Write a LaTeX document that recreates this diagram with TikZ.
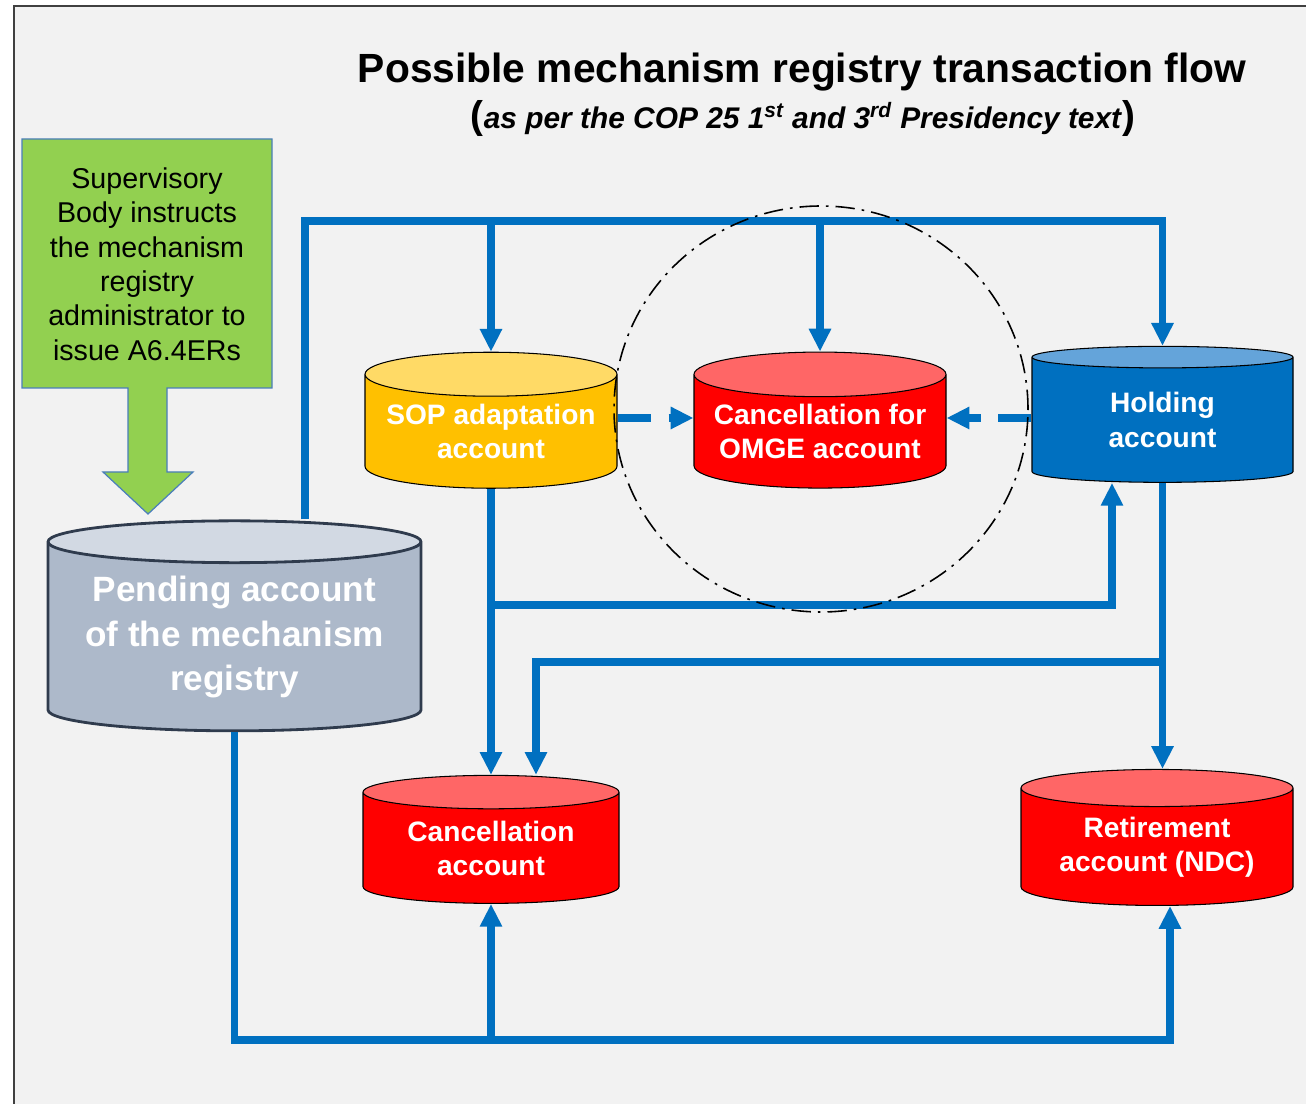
\documentclass[tikz,border=0pt]{standalone}
\usepackage{fontspec}
\setmainfont{Liberation Sans}
\usepackage{tikz}
\usetikzlibrary{arrows.meta,shapes.geometric,calc}
\definecolor{regblue}{HTML}{0070C0}
\definecolor{regbluetop}{HTML}{64A4DA}
\definecolor{regpaper}{HTML}{F2F2F2}
\definecolor{regframe}{HTML}{404040}
\definecolor{reggreen}{HTML}{92D050}
\definecolor{reggreenline}{HTML}{4A7EBB}
\definecolor{reggold}{HTML}{FFC000}
\definecolor{reggoldtop}{HTML}{FFDA66}
\definecolor{regred}{HTML}{FF0000}
\definecolor{regredtop}{HTML}{FF6666}
\definecolor{reggrey}{HTML}{ADB9CA}
\definecolor{reggreytop}{HTML}{D2D9E3}
\definecolor{regslate}{HTML}{2F3B4D}

\tikzset{
  account/.style={cylinder, shape border rotate=90, aspect=0.21, draw=black,
    line width=0.6pt, cylinder uses custom fill, text=white, align=center,
    inner sep=0pt, font=\fontsize{16}{19.4}\selectfont\bfseries},
  flow/.style={draw=regblue, line width=4pt, -{Triangle[length=13pt,width=12pt]}},
  flowdash/.style={flow, dash pattern=on 19pt off 10pt}
}

\begin{document}
\begin{tikzpicture}
  \useasboundingbox (0,0) rectangle (26.12,22.08);
  \fill[regpaper] (0.28,0) rectangle (26.12,21.96);
  \draw[regframe, line width=1.1pt] (0.28,0) |- (26.12,21.96);

  % heading
  \node[font=\fontsize{23.2}{28}\selectfont\bfseries] (title) at (16.04,20.64)
    {Possible mechanism registry transaction flow};
  \node[font=\fontsize{17}{20}\selectfont\bfseries] (subtitle) at (16.06,19.70)
    {{\fontsize{22}{24}\selectfont(}\textit{as per the COP 25 1\textsuperscript{st} and 3\textsuperscript{rd} Presidency text}{\fontsize{22}{24}\selectfont)}};

  % supervisory body callout
  \filldraw[fill=reggreen, draw=reggreenline, line width=0.7pt]
    (0.44,19.30) -- (5.44,19.30) -- (5.44,14.32) -- (3.34,14.32) -- (3.34,12.64)
    -- (3.86,12.64) -- (2.96,11.80) -- (2.06,12.64) -- (2.56,12.64) -- (2.56,14.32)
    -- (0.44,14.32) -- cycle;
  \node[align=center, font=\fontsize{16.3}{19.6}\selectfont] (sb) at (2.94,16.80)
    {Supervisory\\Body instructs\\the mechanism\\registry\\administrator to\\issue A6.4ERs};

  % accounts
  \node[account, aspect=0.14, draw=regslate, line width=1.6pt, minimum width=7.46cm,
    minimum height=4.2cm, cylinder body fill=reggrey, cylinder end fill=reggreytop,
    font=\fontsize{20}{25.3}\selectfont\bfseries] (pend) at (4.69,9.34)
    {Pending account\\of the mechanism\\registry};
  \node[account, minimum width=5.04cm, minimum height=2.72cm,
    cylinder body fill=reggold, cylinder end fill=reggoldtop] (sop) at (9.82,13.45)
    {SOP adaptation\\account};
  \node[account, minimum width=5.04cm, minimum height=2.72cm,
    cylinder body fill=regred, cylinder end fill=regredtop] (omge) at (16.40,13.45)
    {Cancellation for\\OMGE account};
  \node[account, aspect=0.20, minimum width=5.22cm, minimum height=2.72cm,
    cylinder body fill=regblue, cylinder end fill=regbluetop] (hold) at (23.25,13.68)
    {Holding\\account};
  \node[account, aspect=0.20, minimum width=5.12cm, minimum height=2.56cm,
    cylinder body fill=regred, cylinder end fill=regredtop] (canc) at (9.82,5.12)
    {Cancellation\\account};
  \node[account, aspect=0.19, minimum width=5.44cm, minimum height=2.72cm,
    cylinder body fill=regred, cylinder end fill=regredtop] (reti) at (23.14,5.14)
    {Retirement\\account (NDC)};

  % connectors
  \coordinate (topbus) at (6.10,17.66);
  \coordinate (midbus) at (9.82,9.98);
  \coordinate (retibus) at (23.25,8.84);
  \coordinate (botbus) at (4.69,1.28);
  \coordinate (holdin) at ([xshift=-1.01cm]hold.south);
  \coordinate (cancin) at ([xshift=0.9cm]canc.north);
  \coordinate (retiin) at ([xshift=0.26cm]reti.south);
  \coordinate (omgeleft) at ([yshift=0.27cm]omge.west);
  \coordinate (omgeright) at ([yshift=0.27cm]omge.east);

  \draw[flow] (pend.north -| topbus) -- (topbus) -| (hold.north);
  \draw[flow] (topbus -| sop.north) -- (sop.north);
  \draw[flow] (topbus -| omge.north) -- (omge.north);
  \draw[flowdash] (sop.east |- omgeleft) -- (omgeleft);
  \draw[flowdash] (hold.west |- omgeright) -- (omgeright);
  \draw[flow] (sop.south) -- (canc.north);
  \draw[flow] (midbus) -| (holdin);
  \draw[flow] (hold.south) -- (hold.south |- reti.north);
  \draw[flow] (retibus) -| (cancin);
  \draw[flow] (pend.south) -- (botbus) -| (retiin);
  \draw[flow] (botbus -| canc.south) -- (canc.south);

  % OMGE group ring
  \draw[black, line width=0.9pt, dash pattern=on 11pt off 4pt on 1.5pt off 4pt]
    (16.42,13.90) ellipse [x radius=4.14cm, y radius=4.06cm];
\end{tikzpicture}
\end{document}
